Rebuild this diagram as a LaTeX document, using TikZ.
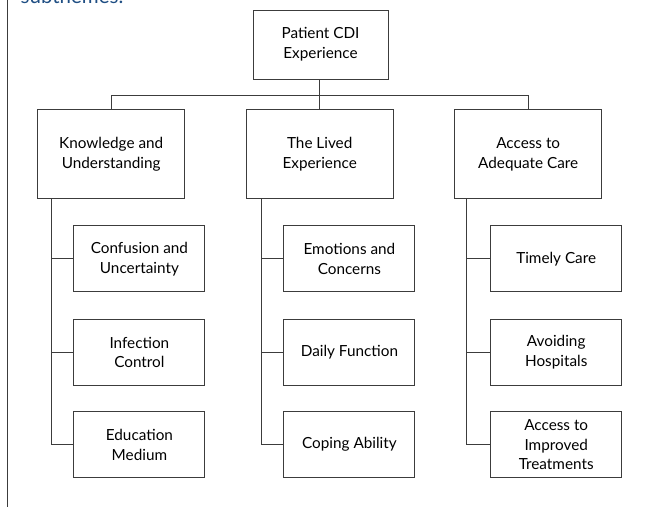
\documentclass[tikz,border=0pt]{standalone}
\usepackage{fontspec}
\setmainfont{Lato}
\definecolor{titleblue}{RGB}{31,78,131}
\definecolor{linegray}{RGB}{60,60,60}
\begin{document}
\begin{tikzpicture}[x=1pt,y=-1pt,
  box/.style={draw=linegray, line width=0.9pt, align=center, inner sep=0pt,
    font=\fontsize{15.3}{19.8}\selectfont},
  topbox/.style={box, minimum width=135pt, minimum height=69pt},
  themebox/.style={box, minimum width=147pt, minimum height=89pt},
  subbox/.style={box, minimum width=131pt, minimum height=66pt},
  conn/.style={draw=linegray, line width=0.9pt}]
\useasboundingbox (0,0) rectangle (652,507);
% frame and cut-off caption
\draw[linegray, line width=0.9pt] (7.3,0) -- (7.3,507);
\node[anchor=base west, inner sep=0pt, text=titleblue, font=\fontsize{20.5}{24}\selectfont] (cap) at (20.5,3) {subthemes.};
% root
\node[topbox] (root) at (320.5,44.5) {Patient CDI\\Experience};
% themes
\node[themebox] (ku) at (111.2,154.3) {Knowledge and\\Understanding};
\node[themebox] (le) at (319.7,154.3) {The Lived\\Experience};
\node[themebox] (ac) at (528.2,154.3) {Access to\\Adequate Care};
% subthemes
\node[subbox] (cu) at (139.4,258.9) {Confusion and\\Uncertainty};
\node[subbox] (ic) at (139.4,352.5) {Infection\\Control};
\node[subbox] (em) at (139.4,444.7) {Education\\Medium};
\node[subbox] (ec) at (349.4,258.9) {Emotions and\\Concerns};
\node[subbox] (df) at (349.4,352.5) {Daily Function};
\node[subbox] (ca) at (349.4,444.7) {Coping Ability};
\node[subbox] (tc) at (556.2,258.9) {Timely Care};
\node[subbox] (ah) at (556.2,352.5) {Avoiding\\Hospitals};
\node[subbox] (ai) at (556.2,444.7) {Access to\\Improved\\Treatments};
% root to themes
\coordinate (bus) at (319,95);
\draw[conn] (root.south -| bus) -- (bus);
\draw[conn] (ku.north) -- (ku.north |- bus) -- (ac.north |- bus) -- (ac.north);
\draw[conn] (le.north) -- (le.north |- bus);
% spines
\coordinate (s1) at (51.7,0);
\coordinate (s2) at (261,0);
\coordinate (s3) at (466.7,0);
\draw[conn] (ku.south -| s1) -- (em.west -| s1) -- (em.west);
\draw[conn] (cu.west -| s1) -- (cu.west);
\draw[conn] (ic.west -| s1) -- (ic.west);
\draw[conn] (le.south -| s2) -- (ca.west -| s2) -- (ca.west);
\draw[conn] (ec.west -| s2) -- (ec.west);
\draw[conn] (df.west -| s2) -- (df.west);
\draw[conn] (ac.south -| s3) -- (ai.west -| s3) -- (ai.west);
\draw[conn] (tc.west -| s3) -- (tc.west);
\draw[conn] (ah.west -| s3) -- (ah.west);
\end{tikzpicture}
\end{document}
